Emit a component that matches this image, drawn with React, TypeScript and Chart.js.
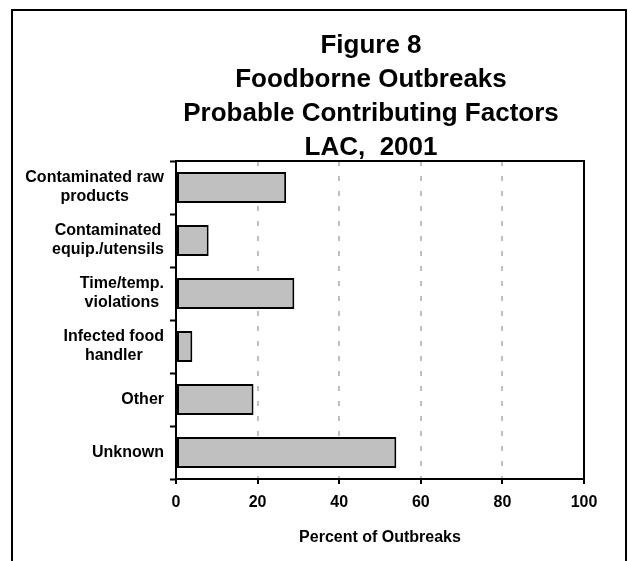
import React, { useEffect, useRef } from "react";
import { Chart, registerables } from "chart.js";

Chart.register(...registerables);

const categories: string[][] = [
  ["Contaminated raw", "products"],
  ["Contaminated", "equip./utensils"],
  ["Time/temp.", "violations"],
  ["Infected food", "handler"],
  ["Other"],
  ["Unknown"],
];
const percentValues: number[] = [27, 8, 29, 4, 19, 54];
const titleLines: string[] = [
  "Figure 8",
  "Foodborne Outbreaks",
  "Probable Contributing Factors",
  "LAC,  2001",
];
const axisTitle = "Percent of Outbreaks";
const xMin = 0;
const xMax = 100;
const xStep = 20;

const FONT = "'Liberation Sans', Arial, Helvetica, sans-serif";

const framePlugin = {
  id: "frameAndTitle",
  beforeDraw(chart: any) {
    const ctx = chart.ctx;
    ctx.save();
    ctx.fillStyle = "#ffffff";
    ctx.fillRect(0, 0, chart.width, chart.height);
    ctx.strokeStyle = "#000000";
    ctx.lineWidth = 2;
    ctx.strokeRect(12, 10, 614, 620);
    ctx.restore();
  },
  afterDraw(chart: any) {
    const ctx = chart.ctx;
    const area = chart.chartArea;
    ctx.save();
    // title
    ctx.fillStyle = "#000000";
    ctx.font = `bold 26px ${FONT}`;
    ctx.textAlign = "center";
    ctx.textBaseline = "alphabetic";
    const baselines = [53, 87, 121, 155];
    titleLines.forEach((t, i) => ctx.fillText(t, 371, baselines[i]));

    // top and right plot borders
    ctx.strokeStyle = "#000000";
    ctx.lineWidth = 2;
    ctx.beginPath();
    ctx.moveTo(area.left, area.top);
    ctx.lineTo(area.right, area.top);
    ctx.lineTo(area.right, area.bottom);
    ctx.stroke();

    // category labels: right-aligned blocks with centered lines
    const yScale = chart.scales.y;
    ctx.font = `bold 16px ${FONT}`;
    ctx.textBaseline = "middle";
    ctx.textAlign = "center";
    const rightEdge = yScale.right - 12;
    const lh = 19;
    categories.forEach((lines, i) => {
      const yc = yScale.getPixelForTick(i);
      const w = Math.max(...lines.map((l) => ctx.measureText(l).width));
      const cx = rightEdge - w / 2;
      lines.forEach((l, j) => {
        ctx.fillText(l, cx, yc + (j - (lines.length - 1) / 2) * lh);
      });
    });
    ctx.restore();
  },
};

export default function App() {
  const canvasRef = useRef<HTMLCanvasElement | null>(null);

  useEffect(() => {
    document.body.style.margin = "0";
    const canvas = canvasRef.current;
    if (!canvas) return;
    const chart = new Chart(canvas, {
      type: "bar",
      data: {
        labels: categories,
        datasets: [
          {
            data: percentValues,
            backgroundColor: "#c0c0c0",
            borderColor: "#000000",
            borderWidth: 2,
            borderSkipped: false,
            barPercentage: 0.585,
            categoryPercentage: 1,
          },
        ],
      },
      options: {
        indexAxis: "y",
        responsive: false,
        animation: false,
        devicePixelRatio: 1,
        layout: { padding: { top: 161, right: 44, bottom: 0, left: 0 } },
        plugins: {
          legend: { display: false },
          tooltip: { enabled: false },
          title: { display: false },
        },
        scales: {
          x: {
            type: "linear",
            min: xMin,
            max: xMax,
            afterFit: (s: any) => {
              s.height = 82;
            },
            ticks: {
              stepSize: xStep,
              color: "#000000",
              font: { family: FONT, size: 16, weight: "bold" },
              padding: 9,
            },
            grid: {
              color: (c: any) =>
                c.tick && (c.tick.value === xMin || c.tick.value === xMax)
                  ? "rgba(0,0,0,0)"
                  : "#c0c0c0",
              lineWidth: 2,
              drawTicks: true,
              tickLength: 5,
              tickColor: "#000000",
              tickWidth: 2,
              tickBorderDash: [],
            },
            border: { display: true, color: "#000000", width: 2, dash: [5, 10] },
            title: {
              display: true,
              text: axisTitle,
              color: "#000000",
              font: { family: FONT, size: 16, weight: "bold" },
              padding: { top: 0, bottom: 14 },
            },
          },
          y: {
            type: "category",
            afterFit: (s: any) => {
              s.width = 176;
            },
            ticks: { display: false },
            grid: {
              offset: true,
              drawOnChartArea: false,
              drawTicks: true,
              tickLength: 6,
              tickColor: "#000000",
              tickWidth: 2,
            },
            border: { display: true, color: "#000000", width: 2 },
          },
        },
      },
      plugins: [framePlugin],
    } as any);
    return () => chart.destroy();
  }, []);

  return (
    <div style={{ position: "absolute", left: 0, top: 0, width: 628, height: 561 }}>
      <canvas ref={canvasRef} width={628} height={561} />
    </div>
  );
}
